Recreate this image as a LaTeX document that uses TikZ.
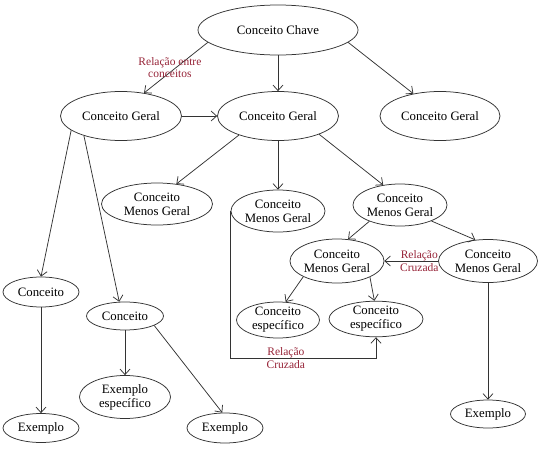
\documentclass[tikz,border=0pt]{standalone}
\usepackage{fontspec}
\setmainfont{Liberation Serif}
\usetikzlibrary{shapes.geometric,arrows.meta}
\definecolor{relred}{RGB}{150,35,55}
\tikzset{conc/.style={ellipse,draw,align=center,inner sep=0pt},
  rel/.style={text=relred,align=center,font=\fontsize{11.5}{12.5}\selectfont}}
\begin{document}
\begin{tikzpicture}[x=1pt,y=1pt,line width=.75pt,draw=black!80,font=\fontsize{12.8}{14}\selectfont,>={Straight Barb[length=5.5pt,width=10pt]}]
\useasboundingbox (0,0) rectangle (539,-453);
% niveis de conceitos
\node[conc,minimum width=160pt,minimum height=50pt] (chave) at (278,-30) {Conceito Chave};
\node[conc,minimum width=121pt,minimum height=49pt] (gl) at (121,-116) {Conceito Geral};
\node[conc,minimum width=121pt,minimum height=49pt] (gm) at (278,-116) {Conceito Geral};
\node[conc,minimum width=120pt,minimum height=49pt] (gr) at (440,-116) {Conceito Geral};
\node[conc,minimum width=111pt,minimum height=42pt] (m1) at (157,-204) {Conceito\\Menos Geral};
\node[conc,minimum width=93pt,minimum height=42pt] (m2) at (278,-211) {Conceito\\Menos Geral};
\node[conc,minimum width=94pt,minimum height=42pt] (m3) at (400,-205) {Conceito\\Menos Geral};
\node[conc,minimum width=92pt,minimum height=44pt] (m4) at (337,-261) {Conceito\\Menos Geral};
\node[conc,minimum width=99pt,minimum height=43pt] (m5) at (488,-261) {Conceito\\Menos Geral};
\node[conc,minimum width=83pt,minimum height=36pt] (e1) at (278,-320) {Conceito\\específico};
\node[conc,minimum width=94pt,minimum height=35pt] (e2) at (376,-319) {Conceito\\específico};
\node[conc,minimum width=76pt,minimum height=30pt] (c1) at (41,-292) {Conceito};
\node[conc,minimum width=77pt,minimum height=28pt] (c2) at (125,-316) {Conceito};
\node[conc,minimum width=91pt,minimum height=43pt] (xe) at (125,-397) {Exemplo\\específico};
\node[conc,minimum width=76pt,minimum height=29pt] (x1) at (41,-428) {Exemplo};
\node[conc,minimum width=76pt,minimum height=30pt] (x2) at (225,-428) {Exemplo};
\node[conc,minimum width=75pt,minimum height=28pt] (x3) at (488,-414) {Exemplo};
% ligacoes
\draw[->] (chave.190)--(gl.45) node[rel,midway,xshift=-6pt] (lrel) {Relação entre\\conceitos};
\draw[->] (chave)--(gm);\draw[->] (chave.-10)--(gr.140);\draw[->] (gl)--(gm);
\draw[->] (gm.206)--(m1.46);\draw[->] (gm)--(m2);\draw[->] (gm.-24)--(m3.130);
\draw[->] (m3.208)--(m4.63);\draw[->] (m3.-27)--(m5.121);
\draw[->] (m5.west)--(m4.east) node[rel,pos=.35] (lcz1) {Relação\\Cruzada};
\draw[->] (m4.205)--(e1.67);\draw[->] (m4.-26)--(e2.95);
\draw[->] (m2.west)--++(0,-147) -| (e2.south) node[rel,pos=.19] (lcz2) {Relação\\Cruzada};
\draw[->] (gl.196)--(c1.north);\draw[->] (gl.208)--(c2.112);
\draw[->] (c1)--(x1);\draw[->] (c2)--(xe);\draw[->] (c2.-18)--(x2.100);
\draw[->] (m5)--(x3);
\end{tikzpicture}
\end{document}
